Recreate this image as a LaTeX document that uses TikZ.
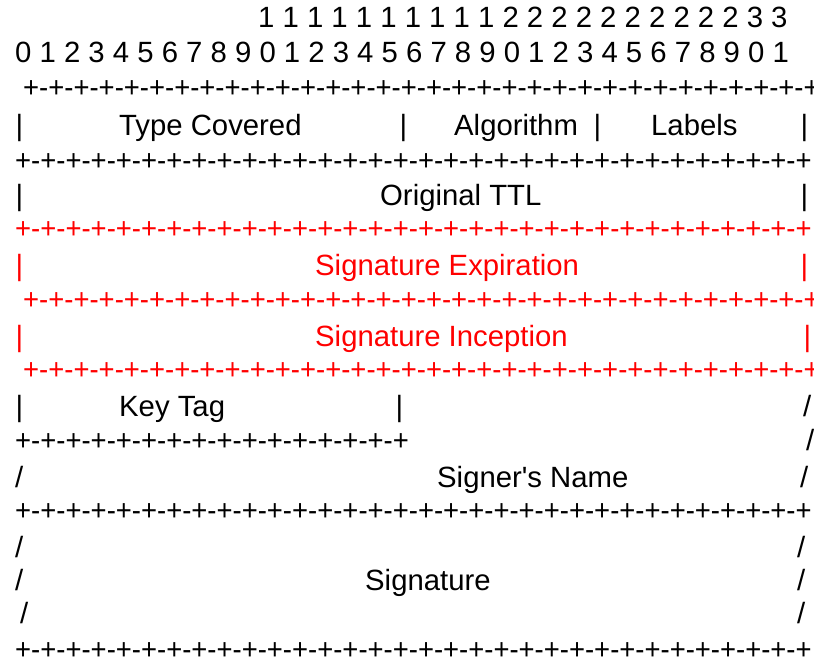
\documentclass[tikz,border=0pt]{standalone}
\usepackage{fontspec}
\usepackage{graphicx}
\newfontfamily\diagfont{Liberation Sans}
\definecolor{hl}{RGB}{255,0,0}
% ruler lines, squeezed a little so that 32 corners span the full width
\newcommand\prow{\scalebox{0.937}[1]{+-+-+-+-+-+-+-+-+-+-+-+-+-+-+-+-+-+-+-+-+-+-+-+-+-+-+-+-+-+-+-+}}
\newcommand\halfprow{\scalebox{0.937}[1]{+-+-+-+-+-+-+-+-+-+-+-+-+-+-+-+}}
\begin{document}
\begin{tikzpicture}[x=1pt,y=-1pt,
  txt/.style={inner sep=0pt, anchor=base west,
    font=\diagfont\fontsize{29.3}{35}\selectfont},
  redtxt/.style={txt, text=hl}]
\useasboundingbox[fill=white] (0,0) rectangle (814,661);

% bit numbers
\node[txt] (tens) at (258,28) {1 1 1 1 1 1 1 1 1 1 2 2 2 2 2 2 2 2 2 2 3 3};
\node[txt] (ones) at (15,63) {0 1 2 3 4 5 6 7 8 9 0 1 2 3 4 5 6 7 8 9 0 1 2 3 4 5 6 7 8 9 0 1};
\node[txt] (rule0) at (23,97) {\prow};

% type covered / algorithm / labels
\node[txt] (b4a) at (15.5,135) {|};
\node[txt] (typecov) at (119,135) {Type Covered};
\node[txt] (b4b) at (399.5,135) {|};
\node[txt] (algo) at (454,135) {Algorithm};
\node[txt] (b4c) at (593.5,135) {|};
\node[txt] (labels) at (651,135) {Labels};
\node[txt] (b4d) at (800.5,135) {|};
\node[txt] (rule1) at (15,170) {\prow};

% original TTL
\node[txt] (b6a) at (15.5,205) {|};
\node[txt] (ttl) at (380,205) {Original TTL};
\node[txt] (b6b) at (800.5,205) {|};
\node[redtxt] (rule2) at (15,238) {\prow};

% signature expiration
\node[redtxt] (b8a) at (15.5,275) {|};
\node[redtxt] (sigexp) at (315,275) {Signature Expiration};
\node[redtxt] (b8b) at (800.5,275) {|};
\node[redtxt] (rule3) at (23,309) {\prow};

% signature inception
\node[redtxt] (b10a) at (15.5,346) {|};
\node[redtxt] (siginc) at (315,346) {Signature Inception};
\node[redtxt] (b10b) at (803.5,346) {|};
\node[redtxt] (rule4) at (23,379) {\prow};

% key tag and signer's name
\node[txt] (b12a) at (15.5,416) {|};
\node[txt] (keytag) at (119,416) {Key Tag};
\node[txt] (b12b) at (395.5,416) {|};
\node[txt] (s12) at (803,416) {/};
\node[txt] (rule5) at (15,450) {\halfprow};
\node[txt] (s13) at (806,450) {/};
\node[txt] (s14a) at (15,487) {/};
\node[txt] (signer) at (437,487) {Signer's Name};
\node[txt] (s14b) at (800,487) {/};
\node[txt] (rule6) at (15,520) {\prow};

% signature
\node[txt] (s16a) at (15,557) {/};
\node[txt] (s16b) at (797,557) {/};
\node[txt] (s17a) at (15,590) {/};
\node[txt] (sig) at (365,590) {Signature};
\node[txt] (s17b) at (797,590) {/};
\node[txt] (s18a) at (20,623) {/};
\node[txt] (s18b) at (797,623) {/};
\node[txt] (rule7) at (15,659) {\prow};
\end{tikzpicture}
\end{document}
